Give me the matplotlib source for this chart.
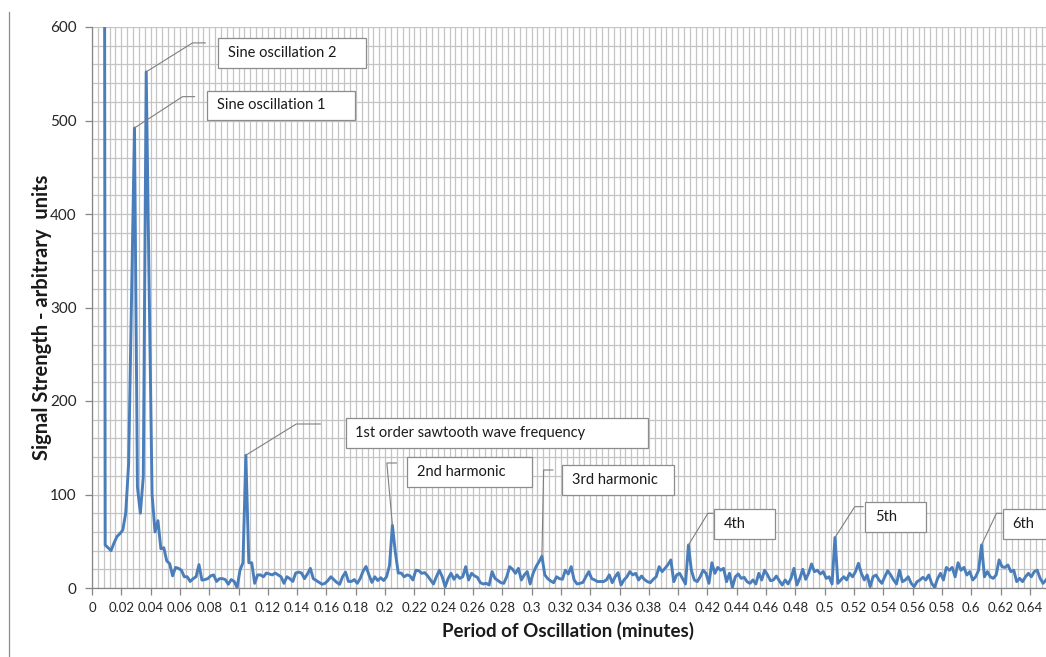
import numpy as np
import matplotlib
matplotlib.use("Agg")
import matplotlib.pyplot as plt
from matplotlib.patches import Rectangle
from matplotlib.lines import Line2D
from matplotlib.ticker import MultipleLocator

plt.rcParams['font.family'] = ['Lato', 'DejaVu Sans']

# ---------------- data ----------------
# sampled periods (minutes): regular grid starting at 0.007, step 0.002
period_start = 0.007
period_step = 0.002
signal = [
    3000, 46, 43, 40, 48, 55, 58, 62, 80, 133,            # .007-.025
    310, 492, 108, 80, 119, 552, 320, 100, 60, 72,        # .027-.045
    42, 43, 29, 26, 13, 22, 21, 19, 12, 12,               # .047-.065
    7, 10, 12, 25, 8.5, 9, 10, 13, 14, 7,                 # .067-.085
    10, 10, 9, 4, 9, 7, 0.5, 19, 27, 142,                 # .087-.105
    27, 27, 5, 14, 14, 12, 16, 15, 14, 16,                # .107-.125
    14, 12, 5, 12, 10, 7, 16, 17, 16, 10,                 # .127-.145
    15, 21, 10, 8, 6, 4, 5, 8, 12, 9,                     # .147-.165
    6, 4, 12, 17, 7, 7, 9, 5, 10, 18,                     # .167-.185
    23, 14, 6, 12, 8, 11, 8, 12, 24, 67,                  # .187-.205
    38, 16, 16, 12, 14, 13, 8.6, 19, 18.5, 15.7,          # .207-.225
    16.4, 13, 8.6, 4.3, 12, 19, 12, 1.4, 10, 15.7,        # .227-.245
    9.3, 14, 10.3, 12, 22.8, 8.6, 15.7, 13, 11.4, 5.7,    # .247-.265
    4.3, 5, 3.2, 17.5, 10.3, 8, 5.7, 5, 12, 22.8,         # .267-.285
    20, 15.7, 21, 8.6, 14, 17.5, 4.3, 15.7, 22.8, 28,     # .287-.305
    34, 14, 10, 7.5, 5.7, 12, 10, 9.3, 19, 15,            # .307-.325
    22.8, 8.6, 4.3, 5, 6, 12, 17.5, 10, 8.6, 6.8,         # .327-.345
    7, 6.8, 8.6, 14, 5.7, 12, 16.4, 3.2, 8.6, 12,         # .347-.365
    17.5, 14, 15.7, 8.6, 12.8, 9, 6.8, 5.7, 9.3, 12,      # .367-.385
    22.8, 17.5, 21, 25, 30, 6.8, 14, 15.7, 10, 4.3,       # .387-.405
    46, 19, 8.6, 6.8, 12, 19, 15.7, 5, 27, 15.7,          # .407-.425
    22, 19, 21, 6.8, 15.7, 0.7, 12, 15, 10.3, 11.4,       # .427-.445
    6.8, 5, 8.6, 4.3, 15.7, 8.6, 19, 13.9, 7.8, 8.6,      # .447-.465
    12.8, 7.8, 3.2, 8.6, 4.3, 10.3, 21, 3.2, 10.3, 20,    # .467-.485
    9.3, 15.7, 25.7, 17.5, 19, 15, 17.5, 10.3, 12, 4.3,   # .487-.505
    54, 5, 8.6, 12, 8.6, 15.7, 12, 17.5, 26.4, 15.7,      # .507-.525
    8.6, 13.9, 1.4, 12, 13.9, 8.6, 5, 12, 18.5, 13.9,     # .527-.545
    8.6, 4.3, 19, 6.8, 8.6, 12, 5, 1.4, 6.8, 8.6,         # .547-.565
    11.4, 8.6, 13.9, 5, 0.7, 10, 15.7, 8.6, 22, 19,       # .567-.585
    22, 12, 27, 19, 22, 13.9, 17.5, 8.6, 12, 19,          # .587-.605
    46, 12, 17.5, 12, 10.3, 14, 30, 22.8, 22, 24.6,       # .607-.625
    17.5, 19, 6.8, 10.3, 6.8, 12, 15.7, 12, 17.5, 19,     # .627-.645
    10.3, 5, 8.6,                                         # .647-.651
]
periods = period_start + period_step * np.arange(len(signal))
signal = np.array(signal, dtype=float)

x_ticks = [0.0, 0.02, 0.04, 0.06, 0.08, 0.1, 0.12, 0.14, 0.16, 0.18, 0.2,
           0.22, 0.24, 0.26, 0.28, 0.3, 0.32, 0.34, 0.36, 0.38, 0.4,
           0.42, 0.44, 0.46, 0.48, 0.5, 0.52, 0.54, 0.56, 0.58, 0.6,
           0.62, 0.64]
x_tick_labels = ["0", "0.02", "0.04", "0.06", "0.08", "0.1", "0.12", "0.14",
                 "0.16", "0.18", "0.2", "0.22", "0.24", "0.26", "0.28", "0.3",
                 "0.32", "0.34", "0.36", "0.38", "0.4", "0.42", "0.44", "0.46",
                 "0.48", "0.5", "0.52", "0.54", "0.56", "0.58", "0.6", "0.62",
                 "0.64"]
y_ticks = [0, 100, 200, 300, 400, 500, 600]
y_tick_labels = ["0", "100", "200", "300", "400", "500", "600"]

annotation_labels = ["Sine oscillation 2", "Sine oscillation 1",
                     "1st order sawtooth wave frequency", "2nd harmonic",
                     "3rd harmonic", "4th", "5th", "6th"]
annotation_peaks = [0.037, 0.029, 0.105, 0.205, 0.307, 0.407, 0.507, 0.607]

# ---------------- layout (data coordinates) ----------------
# elbow (x, y), end of horizontal leader x, box (x0, y0, x1, y1)
leader_elbows = [(0.0686, 583), (0.0618, 525.5), (0.1394, 175.4), (0.2012, 133.7),
                 (0.3082, 126.2), (0.4203, 79.9), (0.5205, 87.0), (0.6172, 79.9)]
leader_ends = [0.0773, 0.0700, 0.1558, 0.2077, 0.3145, 0.4238, 0.5262, 0.6206]
boxes = [(0.0857, 556.1, 0.1867, 588.2), (0.0782, 500.5, 0.1792, 531.6),
         (0.1730, 149.7, 0.3792, 181.8), (0.2147, 108.0, 0.3000, 140.1),
         (0.3205, 99.5, 0.3970, 131.6), (0.4242, 52.4, 0.4659, 84.5),
         (0.5273, 59.9, 0.5689, 92.0), (0.6215, 52.4, 0.6700, 84.5)]

W, H = 1046, 657
fig = plt.figure(figsize=(W / 100, H / 100), dpi=100)
fig.patch.set_facecolor('white')
ax = fig.add_axes([92 / W, 69 / H, 954 / W, 561 / H])

grid_c = '#c4c4c4'
axis_c = '#868686'

ax.plot(periods, signal, color='#4A7EBB', lw=2.1, solid_joinstyle='round', zorder=3)

ax.set_xlim(0, 0.651)
ax.set_ylim(0, 600)
ax.set_xticks(x_ticks)
ax.set_xticklabels(x_tick_labels)
ax.set_yticks(y_ticks)
ax.set_yticklabels(y_tick_labels)
ax.xaxis.set_minor_locator(MultipleLocator(0.004))
ax.yaxis.set_minor_locator(MultipleLocator(20))
ax.grid(which='both', color=grid_c, lw=0.9, zorder=0)
ax.set_axisbelow(True)
ax.tick_params(which='minor', length=0)
ax.tick_params(axis='x', which='major', length=5, color=axis_c, width=0.9,
               labelsize=9.5, pad=5, labelcolor='#262626')
ax.tick_params(axis='y', which='major', length=5, color=axis_c, width=0.9,
               labelsize=11, pad=6, labelcolor='#262626')
for s in ['top', 'right']:
    ax.spines[s].set_visible(False)
for s in ['left', 'bottom']:
    ax.spines[s].set_color(axis_c)
    ax.spines[s].set_linewidth(0.9)

# annotations
for lab, pk, (ex, ey), endx, (bx0, by0, bx1, by1) in zip(
        annotation_labels, annotation_peaks, leader_elbows, leader_ends, boxes):
    i = int(np.argmin(np.abs(periods - pk)))
    px, py = periods[i], signal[i]
    ax.add_line(Line2D([px, ex, endx], [py, ey, ey], color='#7f7f7f', lw=0.8,
                       zorder=4, clip_on=False))
    ax.add_patch(Rectangle((bx0, by0), bx1 - bx0, by1 - by0, facecolor='white',
                           edgecolor='#8c8c8c', lw=0.9, zorder=5, clip_on=False))
    ax.text(bx0 + 0.0068, (by0 + by1) / 2, lab, ha='left', va='center',
            fontsize=10.5, color='#1a1a1a', zorder=6, clip_on=False)

# axis titles
fig.text(42 / W, 1 - 317 / H, 'Signal Strength - arbitrary  units', rotation=90,
         ha='center', va='center', fontsize=14.5, fontweight='bold', color='#1a1a1a')
fig.text(568 / W, 1 - 631 / H, 'Period of Oscillation (minutes)', ha='center',
         va='center', fontsize=13.5, fontweight='bold', color='#1a1a1a')

# left border of chart area
fig.add_artist(Line2D([9 / W, 9 / W], [0, 1 - 12 / H], color='#8c8c8c', lw=0.9,
                      transform=fig.transFigure))

fig.savefig('out.png', dpi=100, facecolor='white')
